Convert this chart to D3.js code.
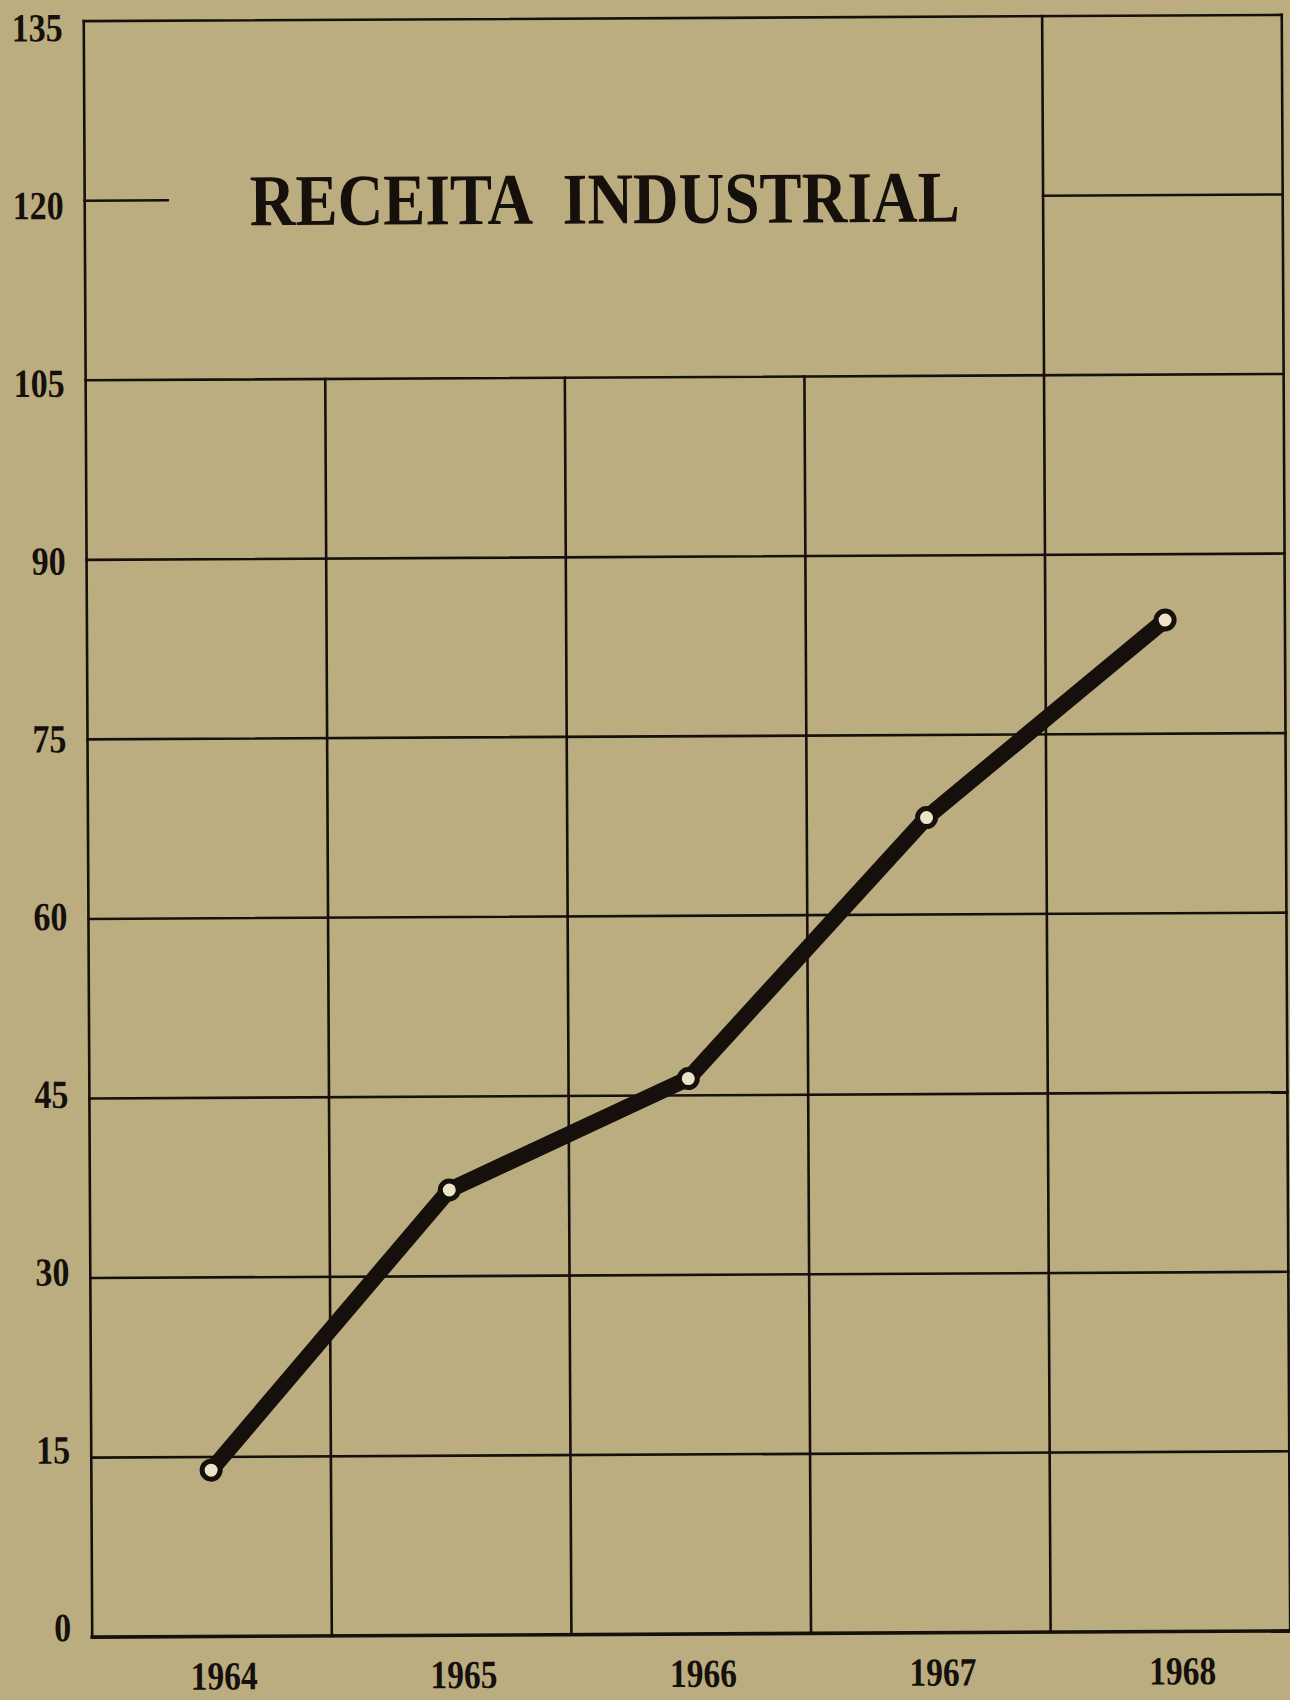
<!doctype html>
<html lang="pt">
<head>
  <meta charset="utf-8">
  <title>Receita Industrial - D3</title>
  <style>
    body { margin: 0; background: #bbad80; }
    svg { display: block; }
  </style>
</head>
<body>
  <svg width="1290" height="1700"></svg>

  <script src="https://cdn.jsdelivr.net/npm/d3@7/dist/d3.min.js"></script>
  <script>
    // values
    var years = ['1964', '1965', '1966', '1967', '1968'];
    var receita = [13.9, 37.2, 46.4, 68.1, 84.5];
    var yTicks = [0, 15, 30, 45, 60, 75, 90, 105, 120, 135];
    var title = 'RECEITA INDUSTRIAL';

    var ink = '#15100b';
    var paper = '#bbad80';

    var x = d3.scaleBand().domain(years).range([88, 1286]);
    var y = d3.scaleLinear().domain([0, 135]).range([1634, 18]);
    // the printed numbers sit a little tighter than the rules
    var yLab = d3.scaleLinear().domain([0, 135]).range([1638, 38]);

    var svg = d3.select('svg');
    svg.append('rect').attr('width', 1290).attr('height', 1700).attr('fill', paper);

    // the scanned page sits slightly crooked
    var g = svg.append('g').attr('transform', 'rotate(-0.3, 690, 830)');
    var grid = g.append('g');

    var left = x.range()[0], right = x.range()[1];

    // horizontal rules: full width up to 105, the top border at 135
    var fullRows = yTicks.filter(v => v <= 105 || v === 135);
    grid.selectAll('line.row').data(fullRows).enter()
      .append('line').attr('class', 'row')
      .attr('x1', left).attr('x2', right)
      .attr('y1', v => y(v)).attr('y2', v => y(v))
      .attr('stroke-width', v => v === 0 ? 3.6 : 2.6);

    // 120 only as a short stub on the left and inside the last column
    grid.append('line')
      .attr('x1', left).attr('x2', left + 83)
      .attr('y1', y(120)).attr('y2', y(120));
    grid.append('line')
      .attr('x1', x('1968')).attr('x2', right)
      .attr('y1', y(120)).attr('y2', y(120));

    // vertical rules between the years
    var inner = ['1965', '1966', '1967'];
    grid.selectAll('line.col').data(inner).enter()
      .append('line').attr('class', 'col')
      .attr('x1', d => x(d)).attr('x2', d => x(d))
      .attr('y1', y(105)).attr('y2', y(0));
    [left, x('1968'), right].forEach(function (px) {
      grid.append('line')
        .attr('x1', px).attr('x2', px)
        .attr('y1', y(135)).attr('y2', y(0));
    });

    grid.selectAll('line')
      .attr('stroke', ink)
      .attr('stroke-linecap', 'square')
      .filter(function () { return !this.getAttribute('stroke-width'); })
      .attr('stroke-width', 2.6);

    // title
    g.append('text')
      .text(title)
      .attr('x', 253).attr('y', 223)
      .attr('textLength', 710)
      .attr('lengthAdjust', 'spacingAndGlyphs')
      .attr('word-spacing', 20)
      .attr('font-family', '"Liberation Serif", "DejaVu Serif", serif')
      .attr('font-weight', 'bold')
      .attr('font-size', 73)
      .attr('fill', ink);

    // y tick labels
    g.selectAll('text.ylab').data(yTicks).enter()
      .append('text').attr('class', 'ylab')
      .text(v => v)
      .attr('x', 67)
      .attr('y', v => yLab(v))
      .attr('text-anchor', 'end')
      .attr('textLength', v => String(v).length * 17)
      .attr('lengthAdjust', 'spacingAndGlyphs')
      .attr('font-family', '"Liberation Serif", serif')
      .attr('font-weight', 'bold')
      .attr('font-size', 40)
      .attr('fill', ink);

    // x labels
    g.selectAll('text.xlab').data(years).enter()
      .append('text').attr('class', 'xlab')
      .text(d => d)
      .attr('x', d => x(d) + x.bandwidth() / 2 + 12)
      .attr('y', 1687)
      .attr('text-anchor', 'middle')
      .attr('textLength', 67)
      .attr('lengthAdjust', 'spacingAndGlyphs')
      .attr('font-family', '"Liberation Serif", serif')
      .attr('font-weight', 'bold')
      .attr('font-size', 40)
      .attr('fill', ink);

    // the series
    var pts = years.map((d, i) => [x(d) + x.bandwidth() / 2, y(receita[i])]);

    g.append('path')
      .attr('d', d3.line()(pts))
      .attr('fill', 'none')
      .attr('stroke', ink)
      .attr('stroke-width', 16)
      .attr('stroke-linejoin', 'round');

    g.selectAll('circle').data(pts).enter()
      .append('circle')
      .attr('cx', p => p[0])
      .attr('cy', p => p[1])
      .attr('r', 9)
      .attr('fill', '#ece4c8')
      .attr('stroke', ink)
      .attr('stroke-width', 5);
  </script>
</body>
</html>
